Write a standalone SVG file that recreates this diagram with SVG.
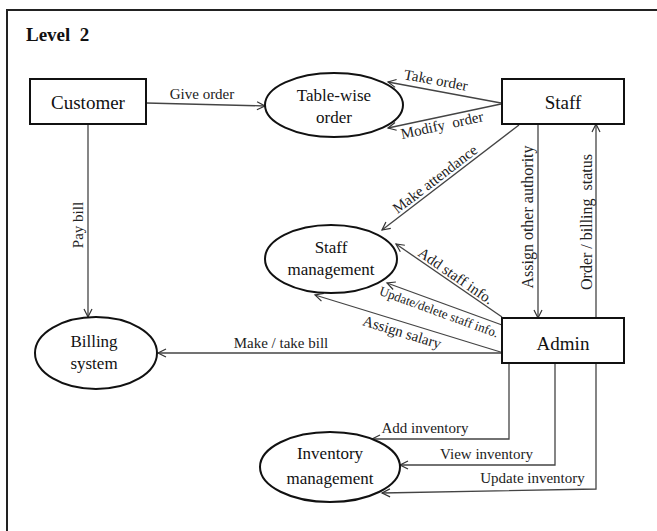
<svg xmlns="http://www.w3.org/2000/svg" width="657" height="531" viewBox="0 0 657 531">
<style>
.frame{fill:none;stroke:#222;stroke-width:2}
.box{fill:#fff;stroke:#111;stroke-width:2}
.proc{fill:#fff;stroke:#111;stroke-width:2}
.ntxt{font-family:"Liberation Serif","Times New Roman",serif;font-size:19px;fill:#111;text-anchor:middle}
.etxt{font-family:"Liberation Serif","Times New Roman",serif;font-size:17px;fill:#111;text-anchor:middle}
.ltxt{font-family:"Liberation Serif","Times New Roman",serif;font-size:15px;fill:#222;text-anchor:middle}
.vtxt{font-family:"Liberation Serif","Times New Roman",serif;font-size:16px;fill:#222;text-anchor:middle}
.stxt{font-family:"Liberation Serif","Times New Roman",serif;font-size:13px;fill:#222;text-anchor:middle}
.title{font-family:"Liberation Serif","Times New Roman",serif;font-size:19px;font-weight:bold;fill:#111}
.conn{fill:none;stroke:#444;stroke-width:1.3}
</style>
<defs>
<marker id="arr" viewBox="-10 -6 12 12" refX="0" refY="0" markerWidth="12" markerHeight="12" markerUnits="userSpaceOnUse" orient="auto">
<path d="M-8,-4 L0,0 L-8,4" fill="none" stroke="#333" stroke-width="1.2"/>
</marker>
</defs>
<rect class="frame" x="7" y="10" width="670" height="540"/>
<text class="title" x="26" y="41" xml:space="preserve">Level  2</text>

<g id="connectors">
<line class="conn" x1="146" y1="103" x2="265" y2="106" marker-end="url(#arr)"/>
<line class="conn" x1="501" y1="103" x2="388" y2="82" marker-end="url(#arr)"/>
<line class="conn" x1="501" y1="104" x2="388" y2="128" marker-end="url(#arr)"/>
<line class="conn" x1="519" y1="125" x2="382" y2="230" marker-end="url(#arr)"/>
<line class="conn" x1="538" y1="124" x2="538" y2="318" marker-end="url(#arr)"/>
<line class="conn" x1="596" y1="318" x2="596" y2="124" marker-end="url(#arr)"/>
<line class="conn" x1="502" y1="317" x2="396" y2="244" marker-end="url(#arr)"/>
<line class="conn" x1="502" y1="325" x2="387" y2="283" marker-end="url(#arr)"/>
<line class="conn" x1="507" y1="354" x2="315" y2="295" marker-end="url(#arr)"/>
<line class="conn" x1="502" y1="353" x2="158" y2="353" marker-end="url(#arr)"/>
<line class="conn" x1="88" y1="124" x2="88" y2="317" marker-end="url(#arr)"/>
<polyline class="conn" points="509,363 509,439 372,439" marker-end="url(#arr)"/>
<polyline class="conn" points="555,363 555,465 400,465" marker-end="url(#arr)"/>
<polyline class="conn" points="596,363 596,489 382,493" marker-end="url(#arr)"/>

<text class="ltxt" x="202" y="99">Give order</text>
<text class="ltxt" x="435" y="85" transform="rotate(10.5 435 85)">Take order</text>
<text class="ltxt" x="443" y="130" transform="rotate(-12.4 443 130)" xml:space="preserve">Modify  order</text>
<text class="ltxt" x="438" y="183" transform="rotate(-37.5 438 183)">Make attendance</text>
<text class="vtxt" x="533" y="217" transform="rotate(-90 533 217)">Assign other authority</text>
<text class="vtxt" x="591.5" y="222" transform="rotate(-90 591.5 222)" xml:space="preserve">Order / billing  status</text>
<text class="ltxt" x="453" y="280" transform="rotate(34.6 453 280)">Add staff info.</text>
<text class="stxt" x="437.5" y="316" transform="rotate(20 437.5 316)">Update/delete staff info.</text>
<text class="ltxt" x="400.5" y="337" transform="rotate(17 400.5 337)">Assign salary</text>
<text class="ltxt" x="281" y="348">Make / take bill</text>
<text class="ltxt" x="83" y="225" transform="rotate(-90 83 225)">Pay bill</text>
<text class="ltxt" x="425" y="433">Add inventory</text>
<text class="ltxt" x="486.5" y="459">View inventory</text>
<text class="ltxt" x="532.5" y="483">Update inventory</text>
</g>

<g id="customer">
<rect class="box" x="30" y="79" width="116" height="45"/>
<text class="ntxt" x="88" y="109">Customer</text>
</g>
<g id="staff">
<rect class="box" x="502" y="79" width="122" height="45"/>
<text class="ntxt" x="563" y="109">Staff</text>
</g>
<g id="admin">
<rect class="box" x="502" y="318" width="122" height="45"/>
<text class="ntxt" x="563" y="350">Admin</text>
</g>
<g id="table-wise-order">
<ellipse class="proc" cx="334" cy="105" rx="69" ry="32"/>
<text class="etxt" x="334" y="101">Table-wise</text>
<text class="etxt" x="334" y="123">order</text>
</g>
<g id="staff-management">
<ellipse class="proc" cx="331" cy="259" rx="66" ry="34"/>
<text class="etxt" x="331" y="253">Staff</text>
<text class="etxt" x="331" y="275">management</text>
</g>
<g id="billing-system">
<ellipse class="proc" cx="96" cy="353" rx="61" ry="36"/>
<text class="etxt" x="94" y="347">Billing</text>
<text class="etxt" x="94" y="369">system</text>
</g>
<g id="inventory-management">
<ellipse class="proc" cx="330" cy="467" rx="70" ry="35"/>
<text class="etxt" x="330" y="459">Inventory</text>
<text class="etxt" x="330" y="484">management</text>
</g>
</svg>
